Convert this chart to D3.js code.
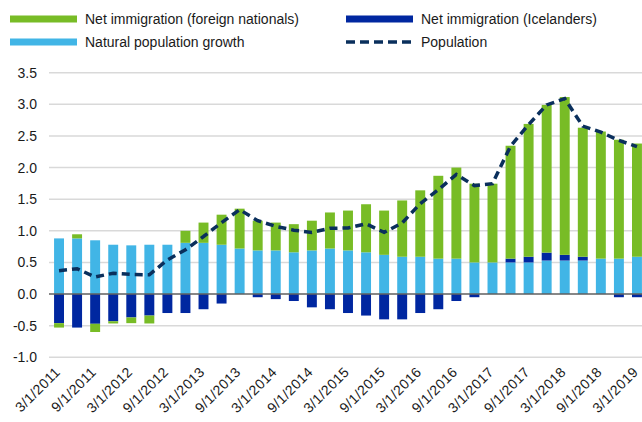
<!DOCTYPE html>
<html>
<head>
<meta charset="utf-8">
<script src="https://cdn.jsdelivr.net/npm/d3@7/dist/d3.min.js"></script>
<style>
  html, body { margin: 0; padding: 0; background: #fff; }
  svg { display: block; font-family: "Liberation Sans", Arial, sans-serif; }
</style>
</head>
<body>
<svg id="chart" width="642" height="422"></svg>
<script>
const categories = [
  "3/1/2011","6/1/2011","9/1/2011","12/1/2011",
  "3/1/2012","6/1/2012","9/1/2012","12/1/2012",
  "3/1/2013","6/1/2013","9/1/2013","12/1/2013",
  "3/1/2014","6/1/2014","9/1/2014","12/1/2014",
  "3/1/2015","6/1/2015","9/1/2015","12/1/2015",
  "3/1/2016","6/1/2016","9/1/2016","12/1/2016",
  "3/1/2017","6/1/2017","9/1/2017","12/1/2017",
  "3/1/2018","6/1/2018","9/1/2018","12/1/2018",
  "3/1/2019"
];
const naturalGrowth = [0.88,0.88,0.85,0.78,0.77,0.78,0.78,0.81,0.81,0.78,0.72,0.69,0.69,0.66,0.69,0.72,0.69,0.66,0.62,0.59,0.59,0.56,0.56,0.50,0.50,0.50,0.50,0.53,0.53,0.53,0.56,0.56,0.59];
const icelanders = [-0.46,-0.53,-0.47,-0.43,-0.37,-0.34,-0.30,-0.30,-0.24,-0.15,0,-0.05,-0.08,-0.11,-0.21,-0.24,-0.30,-0.34,-0.40,-0.40,-0.30,-0.24,-0.11,-0.05,0,0.06,0.09,0.125,0.09,0.06,0,-0.05,-0.05];
const foreignNationals = [-0.07,0.065,-0.13,-0.035,-0.09,-0.125,0,0.19,0.32,0.475,0.63,0.47,0.44,0.445,0.47,0.57,0.63,0.76,0.70,0.89,1.05,1.31,1.44,1.245,1.245,1.785,2.10,2.335,2.495,2.04,2.01,1.88,1.79];
const population = [0.37,0.40,0.27,0.33,0.31,0.305,0.54,0.70,0.91,1.13,1.335,1.16,1.07,1.01,0.975,1.04,1.045,1.11,0.975,1.125,1.43,1.65,1.89,1.715,1.745,2.34,2.68,2.99,3.09,2.655,2.56,2.43,2.33];
const yTicks = [-1.0,-0.5,0.0,0.5,1.0,1.5,2.0,2.5,3.0,3.5];
const tickLabels = categories.filter(c => c.startsWith("3/") || c.startsWith("9/"));

const seriesNames = ["Natural population growth","Net immigration (Icelanders)","Net immigration (foreign nationals)"];
const colors = {
  "Net immigration (foreign nationals)": "#78bc26",
  "Net immigration (Icelanders)": "#0027a0",
  "Natural population growth": "#41b5e6",
  "Population": "#0a2f5c"
};

const table = categories.map((c, i) => ({
  cat: c,
  "Natural population growth": naturalGrowth[i],
  "Net immigration (Icelanders)": icelanders[i],
  "Net immigration (foreign nationals)": foreignNationals[i],
  pop: population[i]
}));

const svg = d3.select("#chart");
const x = d3.scaleBand().domain(categories).range([50, 646]).paddingInner(0.45).paddingOuter(0.225);
const y = d3.scaleLinear().domain([-1.0, 3.5]).range([357.3, 72.7]);

// gridlines
svg.append("g").selectAll("line").data(yTicks.filter(t => t !== 0)).join("line")
  .attr("x1", 49).attr("x2", 642)
  .attr("y1", d => y(d)).attr("y2", d => y(d))
  .attr("stroke", "#d9d9d9").attr("stroke-width", 1.5);

// y labels
svg.append("g").selectAll("text").data(yTicks).join("text")
  .attr("x", 37).attr("y", d => y(d)).attr("dy", "0.36em")
  .attr("text-anchor", "end").attr("font-size", 14).attr("fill", "#1a1a1a")
  .text(d => d.toFixed(1));

// stacked bars
const stack = d3.stack().keys(seriesNames).offset(d3.stackOffsetDiverging);
const stacked = stack(table);
svg.append("g").selectAll("g").data(stacked).join("g")
  .attr("fill", s => colors[s.key])
  .selectAll("rect").data(s => s).join("rect")
  .attr("x", d => x(d.data.cat))
  .attr("width", x.bandwidth())
  .attr("y", d => y(Math.max(d[0], d[1])))
  .attr("height", d => Math.abs(y(d[0]) - y(d[1])));

// zero line
svg.append("line").attr("x1", 49).attr("x2", 642).attr("y1", y(0)).attr("y2", y(0))
  .attr("stroke", "#5f5f5f").attr("stroke-width", 1.6);

// population line
const line = d3.line().x(d => x(d.cat) + x.bandwidth() / 2).y(d => y(d.pop));
svg.append("path").datum(table).attr("d", line)
  .attr("fill", "none").attr("stroke", colors["Population"])
  .attr("stroke-width", 3.5).attr("stroke-dasharray", "8,5");

// x labels
svg.append("g").selectAll("text").data(tickLabels).join("text")
  .attr("transform", d => `translate(${x(d) + x.bandwidth() / 2 + 2},${373}) rotate(-45)`)
  .attr("text-anchor", "end").attr("font-size", 14).attr("letter-spacing", "0.4px").attr("fill", "#1a1a1a")
  .text(d => d);

// legend
const legend = [
  { name: "Net immigration (foreign nationals)", x: 10, y: 19, type: "bar" },
  { name: "Net immigration (Icelanders)", x: 346, y: 19, type: "bar" },
  { name: "Natural population growth", x: 10, y: 42, type: "bar" },
  { name: "Population", x: 346, y: 42, type: "line" }
];
const lg = svg.append("g").selectAll("g").data(legend).join("g");
lg.filter(d => d.type === "bar").append("rect")
  .attr("x", d => d.x).attr("y", d => d.y - 3.5).attr("width", 67).attr("height", 7)
  .attr("fill", d => colors[d.name]);
lg.filter(d => d.type === "line").append("line")
  .attr("x1", d => d.x).attr("x2", d => d.x + 67)
  .attr("y1", d => d.y).attr("y2", d => d.y)
  .attr("stroke", colors["Population"]).attr("stroke-width", 3.5).attr("stroke-dasharray", "9,5");
lg.append("text").attr("x", d => d.x + 75).attr("y", d => d.y).attr("dy", "0.36em")
  .attr("font-size", 14).attr("fill", "#1a1a1a").text(d => d.name);
</script>
</body>
</html>
